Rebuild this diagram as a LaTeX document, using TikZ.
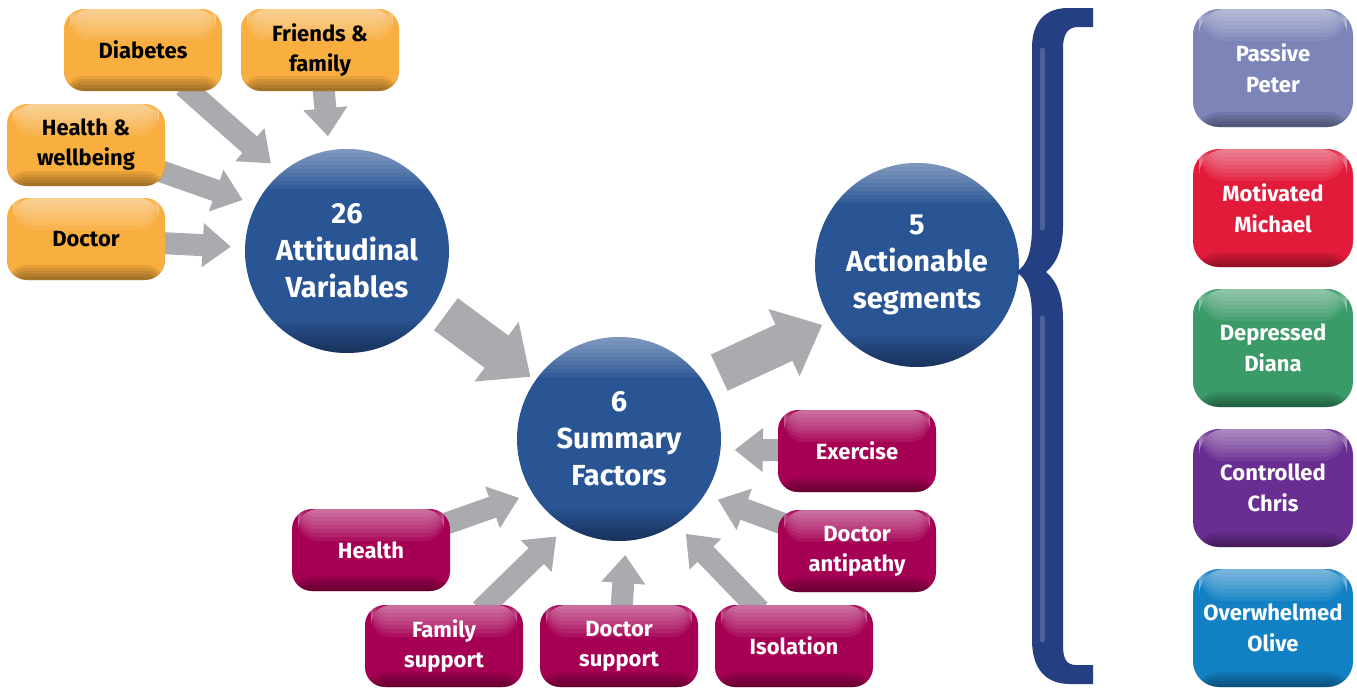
\documentclass[tikz,border=0pt]{standalone}
\usepackage{fontspec}
\setmainfont{Fira Sans}
\usetikzlibrary{arrows.meta,backgrounds}

\definecolor{factorcol}{HTML}{F9AE40}
\definecolor{summcol}{HTML}{A60054}
\definecolor{circcol}{HTML}{2A5595}
\definecolor{arrowcol}{HTML}{A9ABAE}
\definecolor{bracecol}{HTML}{243F82}
\definecolor{petercol}{HTML}{7C84B8}
\definecolor{michaelcol}{HTML}{E31B3B}
\definecolor{dianacol}{HTML}{3A9A68}
\definecolor{chriscol}{HTML}{6A2E92}
\definecolor{olivecol}{HTML}{1281C4}

\begin{document}
\begin{tikzpicture}[x=1pt, y=-1pt, thick,
    % sheen on top, shadow at the bottom, built up from thin layers
    glossy/.style={fill=#1, path picture={
        \foreach \k in {1,...,8}
          \fill[white, opacity=.07] ([xshift=6pt]path picture bounding box.north west)
            rectangle ([xshift=-6pt, yshift=-\k*4pt]path picture bounding box.north east);
        \foreach \k in {1,...,5}
          \fill[black, opacity=.08] (path picture bounding box.south west)
            rectangle ([yshift=\k*3pt]path picture bounding box.south east);}},
    orb/.style={fill=#1, path picture={
        \foreach \k in {1,...,10}
          \fill[white, opacity=.05] (path picture bounding box.north west)
            rectangle ([yshift=-\k*4pt]path picture bounding box.north east);
        \foreach \k in {1,...,8}
          \fill[black, opacity=.05] (path picture bounding box.south west)
            rectangle ([yshift=\k*4pt]path picture bounding box.south east);}},
    circ/.style={circle, minimum size=204pt, orb=circcol, text=white, align=center,
        font=\bfseries\fontsize{29}{37}\selectfont},
    small/.style={rounded corners=20pt, minimum width=158pt, minimum height=82pt, align=center,
        font=\bfseries\fontsize{22}{30}\selectfont},
    factor/.style={small, glossy=factorcol, text=black},
    summ/.style={small, glossy=summcol, text=white},
    seg/.style={rounded corners=26pt, minimum width=160pt, minimum height=118pt, align=center,
        text=white, font=\bfseries\fontsize{22}{31}\selectfont},
    flow/.style={draw=arrowcol, line width=22pt, shorten <=-8pt, shorten >=14pt,
        -{Triangle[width=44pt, length=28pt, line width=1pt]}},
    bigflow/.style={draw=arrowcol, line width=40pt,
        -{Triangle[width=74pt, length=42pt, line width=1pt]}}]
    \useasboundingbox (0,0) rectangle (1357,689);

    % the three stages
    \node[circ] (att) at (347,251) {26\\Attitudinal\\Variables};
    \node[circ] (sf) at (619,439) {6\\Summary\\Factors};
    \node[circ] (act) at (917,265) {5\\Actionable\\segments};

    % inputs
    \node[factor] (diab) at (143,50) {Diabetes};
    \node[factor, node distance=177pt] (friends) [right of = diab] {Friends \&\\family};
    \node[factor] (hw) at (86,145) {Health \&\\wellbeing};
    \node[factor, node distance=94pt] (doc) [below of = hw] {Doctor};

    % factors
    \node[summ] (exer) at (857,451) {Exercise};
    \node[summ, node distance=100pt] (docanti) [below of = exer] {Doctor\\antipathy};
    \node[summ] (health) at (371,550) {Health};
    \node[summ] (famsup) at (444,646) {Family\\support};
    \node[summ, node distance=175pt] (docsup) [right of = famsup] {Doctor\\support};
    \node[summ, node distance=175pt] (iso) [right of = docsup] {Isolation};

    % segments
    \node[seg, glossy=petercol] (peter) at (1273,68) {Passive\\Peter};
    \node[seg, glossy=michaelcol, node distance=140pt] (michael) [below of = peter] {Motivated\\Michael};
    \node[seg, glossy=dianacol, node distance=140pt] (diana) [below of = michael] {Depressed\\Diana};
    \node[seg, glossy=chriscol, node distance=140pt] (chris) [below of = diana] {Controlled\\Chris};
    \node[seg, glossy=olivecol, node distance=140pt] (olive) [below of = chris] {Overwhelmed\\Olive};

    % brace
    \fill[bracecol] (1093,8) -- (1068,8) .. controls (1045,8) and (1032,22) .. (1032,48)
        -- (1032,225) .. controls (1032,250) and (1028,265) .. (1016,272)
        .. controls (1028,279) and (1032,294) .. (1032,318)
        -- (1032,640) .. controls (1032,668) and (1045,684) .. (1070,684) -- (1093,684)
        -- (1093,665) -- (1076,665) .. controls (1066,665) and (1063,658) .. (1063,645)
        -- (1063,320) .. controls (1063,298) and (1058,282) .. (1046,272)
        .. controls (1058,262) and (1063,246) .. (1063,225)
        -- (1063,48) .. controls (1063,34) and (1068,27) .. (1078,27) -- (1093,27) -- cycle;
    \draw[white, opacity=.18, line width=5pt, line cap=round] (1042,50) -- (1042,228);
    \draw[white, opacity=.18, line width=5pt, line cap=round] (1042,318) -- (1042,640);

    \begin{scope}[on background layer]
    \draw[flow] (diab) -- (att.130);
    \draw[flow] (friends) -- (att.100);
    \draw[flow] (hw) -- (att.153);
    \draw[flow] (doc) -- (att.178);
    \draw[bigflow, shorten <=15pt, shorten >=6pt] (att.-32) -- (sf.145);
    \draw[bigflow, shorten <=18pt, shorten >=10pt] (sf.35) -- (act.213);
    \draw[flow] (exer) -- (sf.354);
    \draw[flow] (docanti) -- (sf.327);
    \draw[flow] (iso) -- (sf.304);
    \draw[flow] (docsup) -- (sf.274);
    \draw[flow] (famsup) -- (sf.239);
    \draw[flow] (health) -- (sf.212);
    \end{scope}
\end{tikzpicture}
\end{document}
